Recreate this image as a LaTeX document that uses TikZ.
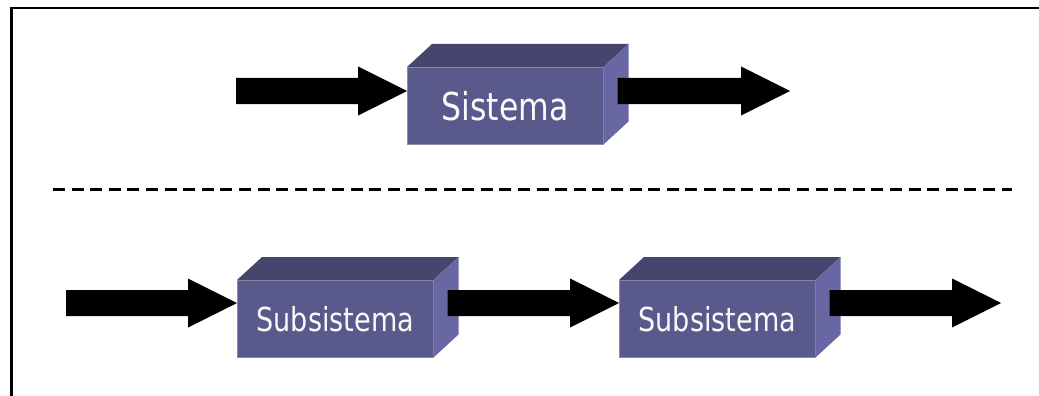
\documentclass[tikz,border=0pt]{standalone}
\usepackage{fontspec}
\setmainfont{DejaVu Sans}[FakeStretch=0.82]
\usetikzlibrary{calc}
\definecolor{frontc}{RGB}{90,89,140}
\definecolor{topc}{RGB}{70,69,110}
\definecolor{sidec}{RGB}{104,103,164}
\definecolor{edgec}{RGB}{140,140,170}
\newcommand\blockarrow[2]{%
  \fill let \p1=(#1), \p2=(#2) in
    (\x1,\y2+13pt) -- (\x2-49pt,\y2+13pt) -- (\x2-49pt,\y2+24.5pt) -- (\x2,\y2)
    -- (\x2-49pt,\y2-24.5pt) -- (\x2-49pt,\y2-13pt) -- (\x1,\y2-13pt) -- cycle;}
\newcommand\boxfaces[1]{%
  \fill[topc] (#1.north west) -- ++(25,-23) -- ($(#1.north east)+(25,-23)$) -- (#1.north east) -- cycle;
  \fill[sidec] (#1.north east) -- ++(25,-23) -- ($(#1.south east)+(25,-23)$) -- (#1.south east) -- cycle;}
\begin{document}
\begin{tikzpicture}[x=1pt,y=-1pt,
  box/.style={fill=frontc, draw=edgec, line width=0.5pt, minimum width=196pt,
    minimum height=77pt, inner sep=0pt, anchor=north west, text=white!95!gray},
  bigtext/.style={font=\fontsize{38.4}{40}\selectfont},
  smalltext/.style={font=\fontsize{33}{35}\selectfont}]
\useasboundingbox (0,0) rectangle (1039,396);
\draw[line width=2.2pt] (11.5,396) -- (11.5,8) -- (1039,8);
% top system
\node[box, bigtext] (s) at (407,67) {\raisebox{-2pt}{Sistema}};
\boxfaces{s}
\coordinate (in1) at (236,91);
\coordinate (out1) at (790,91);
\blockarrow{in1}{$(s.north west)+(0,24)$}
\blockarrow{$(s.north east)+(14,24)$}{out1}
% separator
\draw[line width=3pt, dash pattern=on 12pt off 6.6pt] (53,189) -- (1012,189);
% subsystems
\node[box, smalltext] (b1) at (237,280) {Subsistema};
\node[box, smalltext] (b2) at (619,280) {Subsistema};
\boxfaces{b1}
\boxfaces{b2}
\coordinate (in2) at (66,303);
\coordinate (out2) at (1001,303);
\blockarrow{in2}{$(b1.north west)+(0,23)$}
\blockarrow{$(b1.north east)+(14,23)$}{$(b2.north west)+(0,23)$}
\blockarrow{$(b2.north east)+(14,23)$}{out2}
\end{tikzpicture}
\end{document}
